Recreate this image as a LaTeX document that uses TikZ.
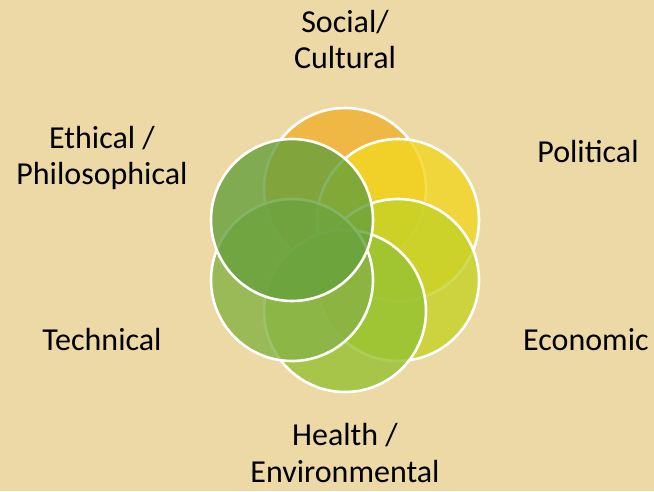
\documentclass[tikz,border=0pt]{standalone}
\usepackage{fontspec}
\setmainfont{Carlito}
\usepackage{tikz}
\usetikzlibrary{shapes,positioning}
\definecolor{papyrus}{HTML}{ECD9A6}
\definecolor{c1}{HTML}{F0B02C}
\definecolor{c2}{HTML}{F2D620}
\definecolor{c3}{HTML}{C4D226}
\definecolor{c4}{HTML}{96C232}
\definecolor{c5}{HTML}{86B244}
\definecolor{c6}{HTML}{66A03C}
\tikzstyle{ring} = [circle, draw=white, line width=2.6pt, minimum size=162pt, inner sep=0pt, fill opacity=0.8]
\tikzstyle{label} = [text centered, align=center, font=\fontsize{32}{36}\selectfont, inner sep=0pt]
\tikzset{
  field/.style ={fill=papyrus, draw=none}
}

\begin{document}
\begin{tikzpicture}[x=1pt,y=-1pt]
 \path[field] (0,0) rectangle (654,491);
 \useasboundingbox (0,0) rectangle (654,491);
 % the six circles, drawn clockwise from the top
 \node[ring, fill=c1] (top) at (345,189) {};
 \node[ring, fill=c2] (topright) at (398,220) {};
 \node[ring, fill=c3] (botright) at (398,280) {};
 \node[ring, fill=c4] (bottom) at (345,311) {};
 \node[ring, fill=c5] (botleft) at (292,280) {};
 \node[ring, fill=c6] (topleft) at (292,220) {};
 % labels
 \node[label] (social) at (345,40) {Social/\\Cultural};
 \node[label] (political) at (588,152) {Political};
 \node[label, anchor=west] (economic) at (523,340) {Economic};
 \node[label] (health) at (345,453) {Health /\\Environmental};
 \node[label] (technical) at (102,340) {Technical};
 \node[label] (ethical) at (102,158) {Ethical /\\Philosophical};
\end{tikzpicture}
\end{document}
